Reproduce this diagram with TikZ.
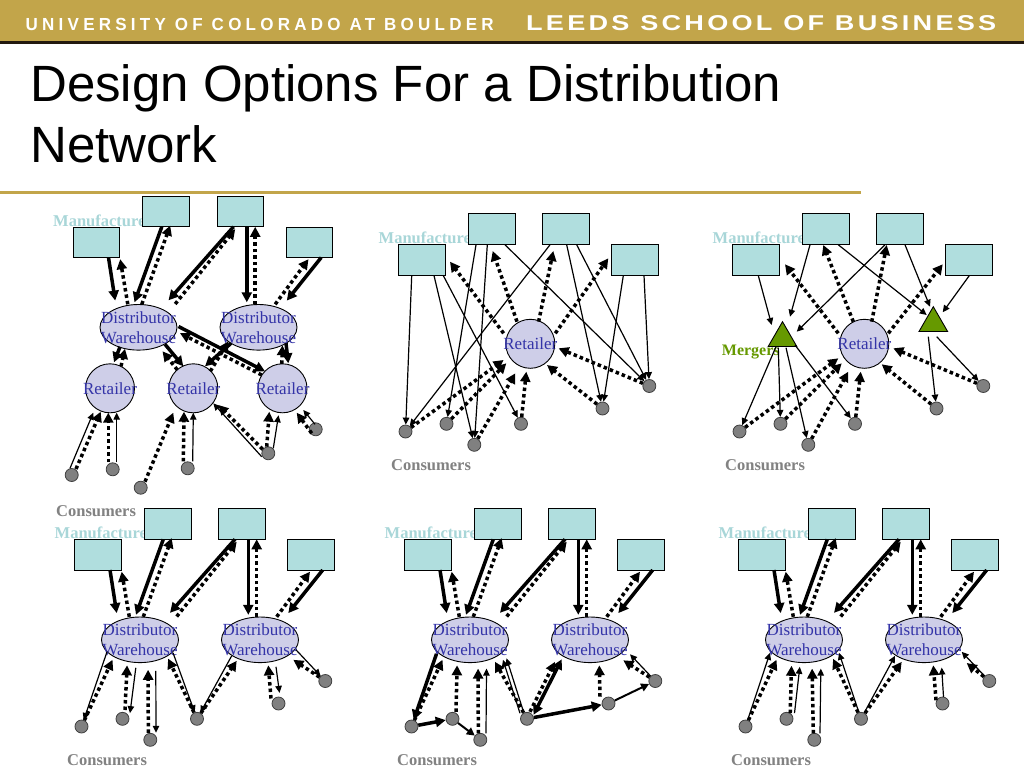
\documentclass[tikz,border=0pt]{standalone}
\usepackage{graphicx}
\usepackage{fontspec}
\setmainfont{Liberation Serif}
\newfontfamily\hdsans[LetterSpace=25]{Liberation Sans}
\newfontfamily\hdsansb[LetterSpace=12]{Liberation Sans}
\newfontfamily\ttlsans{Liberation Sans}
\usetikzlibrary{arrows.meta,calc,shapes.geometric}
\definecolor{gold}{RGB}{194,165,74}
\definecolor{hdark}{RGB}{35,25,15}
\definecolor{mfill}{RGB}{176,222,222}
\definecolor{mtext}{RGB}{168,214,216}
\definecolor{dwfill}{RGB}{206,206,232}
\definecolor{dwtext}{RGB}{52,52,168}
\definecolor{cfill}{RGB}{128,128,128}
\definecolor{ctext}{RGB}{130,130,130}
\definecolor{tfill}{RGB}{102,153,0}
\tikzset{
  mbox/.style={draw=black, line width=0.9pt, fill=mfill, minimum width=46.7pt, minimum height=30.7pt, inner sep=0pt},
  dwell/.style={ellipse, draw=black, line width=0.9pt, fill=dwfill, minimum width=77pt, minimum height=45.6pt, inner sep=0pt},
  rcirc/.style={circle, draw=black, line width=0.9pt, fill=dwfill, minimum size=49pt, inner sep=0pt},
  cdot/.style={circle, draw=black!75, line width=0.8pt, fill=cfill, minimum size=13pt, inner sep=0pt},
  mtri/.style={regular polygon, regular polygon sides=3, draw=black, line width=0.9pt, fill=tfill, minimum size=33pt, inner sep=0pt},
  nodetxt/.style={text=dwtext, font=\fontsize{17}{20}\selectfont, align=center, inner sep=0pt},
  mlab/.style={text=mtext, font=\bfseries\fontsize{16.5}{18}\selectfont, inner sep=0pt, anchor=base west},
  clab/.style={text=ctext, font=\bfseries\fontsize{16.5}{18}\selectfont, inner sep=0pt, anchor=base west},
  glab/.style={text=tfill, font=\bfseries\fontsize{16}{18}\selectfont, inner sep=0pt, anchor=base west},
  thkarr/.style={line width=3.5pt, -{Triangle[length=10pt,width=10pt]}},
  thkboth/.style={line width=3.5pt, {Triangle[length=10pt,width=10pt]}-{Triangle[length=10pt,width=10pt]}},
  dotarr/.style={line width=3.5pt, dash pattern=on 3.5pt off 3pt, -{Triangle[length=10pt,width=10pt]}},
  thinarr/.style={line width=1.2pt, -{Triangle[length=7pt,width=6.5pt]}},
  medarr/.style={line width=2pt, -{Triangle[length=8pt,width=8pt]}},
  hdtxt/.style={anchor=base west, inner sep=0pt, text=white},
  ttl/.style={anchor=base west, inner sep=0pt, font=\ttlsans\fontsize{51}{58}\selectfont}
}
\newcommand\MfgRow[3]{%
  \node[mlab] (#1ml) at ({#2-20},{#3-1}) {Manufacturers};
  \node[mbox] (#1m1) at ({#2+23.3},{#3+15.3}) {};
  \node[mbox] (#1m2) at ({#2+93.2},{#3-15.5}) {};
  \node[mbox] (#1m3) at ({#2+167.3},{#3-15.5}) {};
  \node[mbox] (#1m4) at ({#2+236.3},{#3+15.3}) {};
}
\newcommand\DwPair[3]{%
  \node[dwell, label={[nodetxt]center:Distributor\\Warehouse}] (#1dw1) at ({#2+65.5},{#3+100.3}) {};
  \node[dwell, label={[nodetxt]center:Distributor\\Warehouse}] (#1dw2) at ({#2+185.5},{#3+100.3}) {};
}
\newcommand\ConsRow[3]{%
  \node[clab] (#1cl) at ({#2-7.5},{#3+226}) {Consumers};
  \node[cdot] (#1c1) at ({#2+7},{#3+187}) {};
  \node[cdot] (#1c2) at ({#2+48},{#3+179.3}) {};
  \node[cdot] (#1c3) at ({#2+75.8},{#3+200.3}) {};
  \node[cdot] (#1c4) at ({#2+122.5},{#3+179.3}) {};
  \node[cdot] (#1c5) at ({#2+204},{#3+164}) {};
  \node[cdot] (#1c6) at ({#2+250.8},{#3+141.5}) {};
}
\newcommand\MdArrows[1]{%
  \draw[thkarr] ($(#1m1)+(12.2,15.2)$) -- ($(#1dw1)+(-23.3,-26.7)$);
  \draw[dotarr] ($(#1dw1)+(-10.7,-23)$) -- ($(#1m1)+(23.9,16.9)$);
  \draw[thkarr] ($(#1m2)+(-4.4,15.3)$) -- ($(#1dw1)+(-4,-25)$);
  \draw[dotarr] ($(#1dw1)+(3.3,-23)$) -- ($(#1m2)+(4,14)$);
  \draw[thkarr] ($(#1m3)+(-6.8,15.3)$) -- ($(#1dw1)+(30,-27)$);
  \draw[dotarr] ($(#1dw1)+(36.7,-23.3)$) -- ($(#1m3)+(-5.1,17.7)$);
  \draw[thkarr] ($(#1m3)+(6.5,15.3)$) -- ($(#1dw2)+(-11.7,-25)$);
  \draw[dotarr] ($(#1dw2)+(-3.3,-23)$) -- ($(#1m3)+(14.9,15.3)$);
  \draw[thkarr] ($(#1m4)+(11.9,15.2)$) -- ($(#1dw2)+(28.3,-26.7)$);
  \draw[dotarr] ($(#1dw2)+(16.7,-23)$) -- ($(#1m4)+(-0.8,16.9)$);
}
\begin{document}
\begin{tikzpicture}[x=1pt,y=-1pt]
\useasboundingbox (0,0) rectangle (1024,768);
\fill[white] (0,0) rectangle (1024,768);
% header
\fill[gold] (0,0) rectangle (1024,41.3);
\fill[hdark] (0,41.3) rectangle (1024,44.5);
\node[hdtxt] (hdl) at (25.5,30.2) {\resizebox{468pt}{12.2pt}{\hdsans\bfseries UNIVERSITY OF COLORADO AT BOULDER}};
\node[hdtxt] (hdr) at (526,31) {\resizebox{470pt}{15pt}{\hdsansb\bfseries LEEDS SCHOOL OF BUSINESS}};
% title
\node[ttl] (ttla) at (30,101.7) {Design Options For a Distribution};
\node[ttl] (ttlb) at (30,162) {Network};
\fill[gold] (0,190.5) rectangle (861,193.5);

% ================= Panel A (top-left)
\MfgRow{pa}{73}{227}
\DwPair{pa}{73}{227}
\node[rcirc, label={[nodetxt]center:Retailer}] (par1) at (110,388.3) {};
\node[rcirc, label={[nodetxt]center:Retailer}] (par2) at (193.3,388.3) {};
\node[rcirc, label={[nodetxt]center:Retailer}] (par3) at (282.5,388.3) {};
\node[cdot] (pac1) at (71.7,475) {};
\node[cdot] (pac2) at (112.7,469.3) {};
\node[cdot] (pac3) at (140.7,487.7) {};
\node[cdot] (pac4) at (187.7,468.3) {};
\node[cdot] (pac5) at (268.3,453.3) {};
\node[cdot] (pac6) at (315.7,429.3) {};
\node[clab] (pacl) at (56,516) {Consumers};
\MdArrows{pa}
\draw[thkarr] ($(padw1)+(-18.5,19.5)$) -- ($(par1)+(4,-26)$);
\draw[dotarr] ($(par1)+(11,-22)$) -- ($(padw1)+(-13.5,21.5)$);
\draw[thkarr] ($(padw1)+(26.5,17)$) -- ($(par2)+(-10,-22)$);
\draw[dotarr] ($(par2)+(-16,-18.5)$) -- ($(padw1)+(24,24)$);
\draw[thkarr] ($(padw1)+(40,-0.8)$) -- ($(par3)+(-17.5,-17)$);
\draw[dotarr] ($(par3)+(-20.8,-13.3)$) -- ($(padw1)+(41.5,5.8)$);
\draw[thkarr] ($(padw2)+(-27.5,16)$) -- ($(par2)+(11.7,-22)$);
\draw[dotarr] ($(par2)+(17,-17)$) -- ($(padw2)+(-30,14)$);
\draw[thkarr] ($(padw2)+(27.5,16)$) -- ($(par3)+(5.8,-25)$);
\draw[dotarr] ($(par3)+(-0.8,-24.5)$) -- ($(padw2)+(24,18)$);
\draw[thinarr] ($(pac1)+(-1.7,-6.7)$) -- ($(par1)+(-16.7,24.4)$);
\draw[dotarr] ($(pac1)+(4.3,-6)$) -- ($(par1)+(-9.3,23.4)$);
\draw[dotarr] ($(pac2)+(-4.4,-7)$) -- ($(par1)+(-1.7,24.4)$);
\draw[thinarr] ($(pac2)+(4,-7)$) -- ($(par1)+(6.7,24.4)$);
\draw[dotarr] ($(pac3)+(4.3,-6)$) -- ($(par2)+(-20,24.4)$);
\draw[dotarr] ($(pac4)+(-4.4,-7)$) -- ($(par2)+(-9.3,23.4)$);
\draw[thinarr] ($(pac4)+(5,-7)$) -- ($(par2)+(0,24.4)$);
\draw[thinarr] ($(pac5)+(-6.6,3.4)$) -- ($(par2)+(20,15)$);
\draw[dotarr] ($(pac5)+(-5.6,-4)$) -- ($(par2)+(25,16.7)$);
\draw[dotarr] ($(pac5)+(-1.6,-6.6)$) -- ($(par3)+(-13.2,23.4)$);
\draw[thinarr] ($(pac5)+(5,-5)$) -- ($(par3)+(-4,27)$);
\draw[dotarr] ($(pac6)+(-4,4)$) -- ($(par3)+(14.2,24.4)$);
\draw[thinarr] ($(pac6)+(-0.7,-5)$) -- ($(par3)+(20.8,21.7)$);

% ================= Panel B (top-middle)
\MfgRow{pb}{398.5}{244.5}
\node[rcirc, label={[nodetxt]center:Retailer}] (pbr) at (530.3,343.8) {};
\ConsRow{pb}{398.5}{244.5}
\draw[thinarr] ($(pbm1.south)+(-10.1,0)$) -- (pbc1);
\draw[thinarr] ($(pbm1.south)+(12.2,0)$) -- (pbc3);
\draw[thinarr] ($(pbm1.south)+(21.5,0)$) -- (pbc4);
\draw[thinarr] ($(pbm2.south)+(-15.7,0)$) -- (pbc2);
\draw[thinarr] ($(pbm2.south)+(-4.4,0)$) -- (pbc3);
\draw[thinarr] ($(pbm2.south)+(13.3,0)$) -- (pbc6);
\draw[thinarr] ($(pbm3.south)+(-15.8,0)$) -- (pbc1);
\draw[thinarr] ($(pbm3.south)+(0.9,0)$) -- (pbc5);
\draw[thinarr] ($(pbm3.south)+(10.9,0)$) -- (pbc6);
\draw[thinarr] ($(pbm4.south)+(-11.5,0)$) -- (pbc5);
\draw[thinarr] ($(pbm4.south)+(9.2,0)$) -- (pbc6);
\draw[dotarr] ($(pbr)+(-26.7,-10.5)$) -- ($(pbm1)+(28.2,1.9)$);
\draw[dotarr] ($(pbr)+(-13.3,-22.1)$) -- ($(pbm2)+(1,22)$);
\draw[dotarr] ($(pbr)+(8.3,-22.1)$) -- ($(pbm3)+(-12.5,22)$);
\draw[dotarr] ($(pbr)+(25,-10.5)$) -- ($(pbm4)+(-26.5,-1.5)$);
\draw[dotarr] (pbc1) -- ($(pbr)+(-26.7,16.2)$);
\draw[dotarr] (pbc2) -- ($(pbr)+(-24,19.5)$);
\draw[dotarr] (pbc3) -- ($(pbr)+(-15,29.5)$);
\draw[dotarr] (pbc4) -- ($(pbr)+(-4,27.9)$);
\draw[dotarr] (pbc5) -- ($(pbr)+(16.7,21.2)$);
\draw[dotarr] (pbc6) -- ($(pbr)+(28.3,4.5)$);

% ================= Panel C (top-right)
\MfgRow{pc}{732.5}{244.5}
\node[rcirc, label={[nodetxt]center:Retailer}] (pcr) at (864.3,343.8) {};
\node[mtri] (pct1) at (782.5,338.2) {};
\node[mtri] (pct2) at (933.3,323.2) {};
\node[glab] (pcmg) at (721.7,355.7) {Mergers};
\ConsRow{pc}{732.5}{244.5}
\draw[thinarr] ($(pcm1.south)+(2.5,0)$) -- ($(pct1)+(-10.8,-13.2)$);
\draw[thinarr] ($(pcm2.south)+(-15.7,0)$) -- ($(pct1)+(7.5,-21.5)$);
\draw[thinarr] ($(pcm3.south)+(-14.8,0)$) -- ($(pct1)+(14.2,-6.5)$);
\draw[thinarr] ($(pcm2.south)+(12.6,0)$) -- ($(pct2)+(-6.6,-8.2)$);
\draw[thinarr] ($(pcm3.south)+(5.2,0)$) -- ($(pct2)+(-3.3,-16.5)$);
\draw[thinarr] ($(pcm4.south)+(0.5,0)$) -- ($(pct2)+(9.4,-10.9)$);
\draw[thinarr] ($(pct1)+(-6.5,8.5)$) -- (pcc1);
\draw[thinarr] ($(pct1)+(-4.2,9.5)$) -- (pcc2);
\draw[thinarr] ($(pct1)+(3.5,9.5)$) -- (pcc3);
\draw[thinarr] ($(pct1)+(12.5,6.8)$) -- (pcc4);
\draw[thinarr] ($(pct2)+(-5,13.5)$) -- (pcc5);
\draw[thinarr] ($(pct2)+(3.4,13.5)$) -- (pcc6);
\draw[dotarr] ($(pcr)+(-26,-10.5)$) -- ($(pcm1)+(29.2,4.5)$);
\draw[dotarr] ($(pcr)+(-11,-22.1)$) -- ($(pcm2)+(-2.4,16)$);
\draw[dotarr] ($(pcr)+(7.4,-22.1)$) -- ($(pcm3)+(-13.1,16)$);
\draw[dotarr] ($(pcr)+(24,-10.5)$) -- ($(pcm4)+(-26.1,4.5)$);
\draw[dotarr] (pcc1) -- ($(pcr)+(-26,14.5)$);
\draw[dotarr] (pcc2) -- ($(pcr)+(-22.6,19.5)$);
\draw[dotarr] (pcc3) -- ($(pcr)+(-16,27.9)$);
\draw[dotarr] (pcc4) -- ($(pcr)+(-3.6,27.9)$);
\draw[dotarr] (pcc5) -- ($(pcr)+(17.4,20.5)$);
\draw[dotarr] (pcc6) -- ($(pcr)+(29,4.5)$);

% ================= Panel D (bottom-left)
\MfgRow{pd}{74.5}{539.5}
\DwPair{pd}{74.5}{539.5}
\ConsRow{pd}{74.5}{539.5}
\MdArrows{pd}
\draw[thinarr] ($(pddw1)+(-33,12)$) -- (pdc1);
\draw[dotarr] (pdc1) -- ($(pddw1)+(-27.5,20)$);
\draw[dotarr] ($(pdc2)+(2.5,-8.8)$) -- ($(pddw1)+(-12.9,25.5)$);
\draw[thinarr] ($(pddw1)+(-4.2,28)$) -- ($(pdc2)+(7.5,-5.7)$);
\draw[dotarr] ($(pdc3)+(-2,-7)$) -- ($(pddw1)+(8.1,30)$);
\draw[thinarr] ($(pddw1)+(15.8,31)$) -- ($(pdc3)+(5.7,-7)$);
\draw[dotarr] (pdc4) -- ($(pddw1)+(28.1,18.8)$);
\draw[thinarr] ($(pddw1)+(33,13)$) -- (pdc4);
\draw[thinarr] ($(pddw2)+(-28.3,16)$) -- (pdc4);
\draw[dotarr] (pdc4) -- ($(pddw2)+(-23.3,21)$);
\draw[dotarr] ($(pdc5)+(-7.5,-5)$) -- ($(pddw2)+(8.3,25.5)$);
\draw[thinarr] ($(pddw2)+(16,27)$) -- ($(pdc5)+(1,-10.6)$);
\draw[thinarr] ($(pddw2)+(36,10)$) -- (pdc6);
\draw[dotarr] (pdc6) -- ($(pddw2)+(33.3,20)$);

% ================= Panel E (bottom-middle)
\MfgRow{pe}{404.5}{539.5}
\DwPair{pe}{404.5}{539.5}
\ConsRow{pe}{404.5}{539.5}
\MdArrows{pe}
\draw[thkarr] ($(pedw1)+(-33.5,14)$) -- (pec1);
\draw[dotarr] (pec1) -- ($(pedw1)+(-27.5,20)$);
\draw[thkarr] (pec1) -- (pec2);
\draw[dotarr] ($(pec2)+(3.5,-7)$) -- ($(pedw1)+(-12.9,25.5)$);
\draw[medarr] (pec2) -- (pec3);
\draw[dotarr] ($(pec3)+(-2,-6.5)$) -- ($(pedw1)+(8.1,28.8)$);
\draw[thinarr] ($(pec3)+(5.7,-6.5)$) -- ($(pedw1)+(16.5,28.8)$);
\draw[dotarr] (pec4) -- ($(pedw1)+(25,22)$);
\draw[thinarr] ($(pec4)+(-7,-5.5)$) -- ($(pedw1)+(33,20)$);
\draw[thinarr] ($(pec4)+(-3.5,-7)$) -- ($(pedw1)+(36.5,18.5)$);
\draw[thkboth] ($(pec4)+(6.5,-4)$) -- ($(pedw2)+(-28.3,19.5)$);
\draw[dotarr] ($(pec4)+(3,-7)$) -- ($(pedw2)+(-35,22)$);
\draw[thkarr] (pec4) -- (pec5);
\draw[dotarr] ($(pec5)+(-8.5,-6.8)$) -- ($(pedw2)+(9.3,25.5)$);
\draw[medarr] (pec5) -- (pec6);
\draw[thinarr] (pec6) -- ($(pedw2)+(40,14.5)$);
\draw[dotarr] (pec6) -- ($(pedw2)+(33.3,20.5)$);

% ================= Panel F (bottom-right)
\MfgRow{pf}{738.5}{539.5}
\DwPair{pf}{738.5}{539.5}
\ConsRow{pf}{738.5}{539.5}
\MdArrows{pf}
\draw[thinarr] (pfc1) -- ($(pfdw1)+(-34,13)$);
\draw[dotarr] (pfc1) -- ($(pfdw1)+(-27.5,20)$);
\draw[dotarr] ($(pfc2)+(3.7,-5.7)$) -- ($(pfdw1)+(-12.5,26)$);
\draw[thinarr] ($(pfc2)+(8,-5.7)$) -- ($(pfdw1)+(-4.2,27)$);
\draw[dotarr] ($(pfc3)+(-1,-6.5)$) -- ($(pfdw1)+(8.1,28.8)$);
\draw[thinarr] ($(pfc3)+(5.7,-6.5)$) -- ($(pfdw1)+(16.8,28.8)$);
\draw[dotarr] (pfc4) -- ($(pfdw1)+(29.1,19)$);
\draw[thinarr] (pfc4) -- ($(pfdw1)+(35,13)$);
\draw[thinarr] (pfc4) -- ($(pfdw2)+(-29,16)$);
\draw[dotarr] (pfc4) -- ($(pfdw2)+(-22.3,22)$);
\draw[dotarr] ($(pfc5)+(-6.5,-3.3)$) -- ($(pfdw2)+(9.3,25.5)$);
\draw[thinarr] ($(pfc5)+(1,-6.6)$) -- ($(pfdw2)+(17.7,27.8)$);
\draw[thinarr] (pfc6) -- ($(pfdw2)+(37.7,12)$);
\draw[dotarr] (pfc6) -- ($(pfdw2)+(42.7,23.2)$);
\end{tikzpicture}
\end{document}
